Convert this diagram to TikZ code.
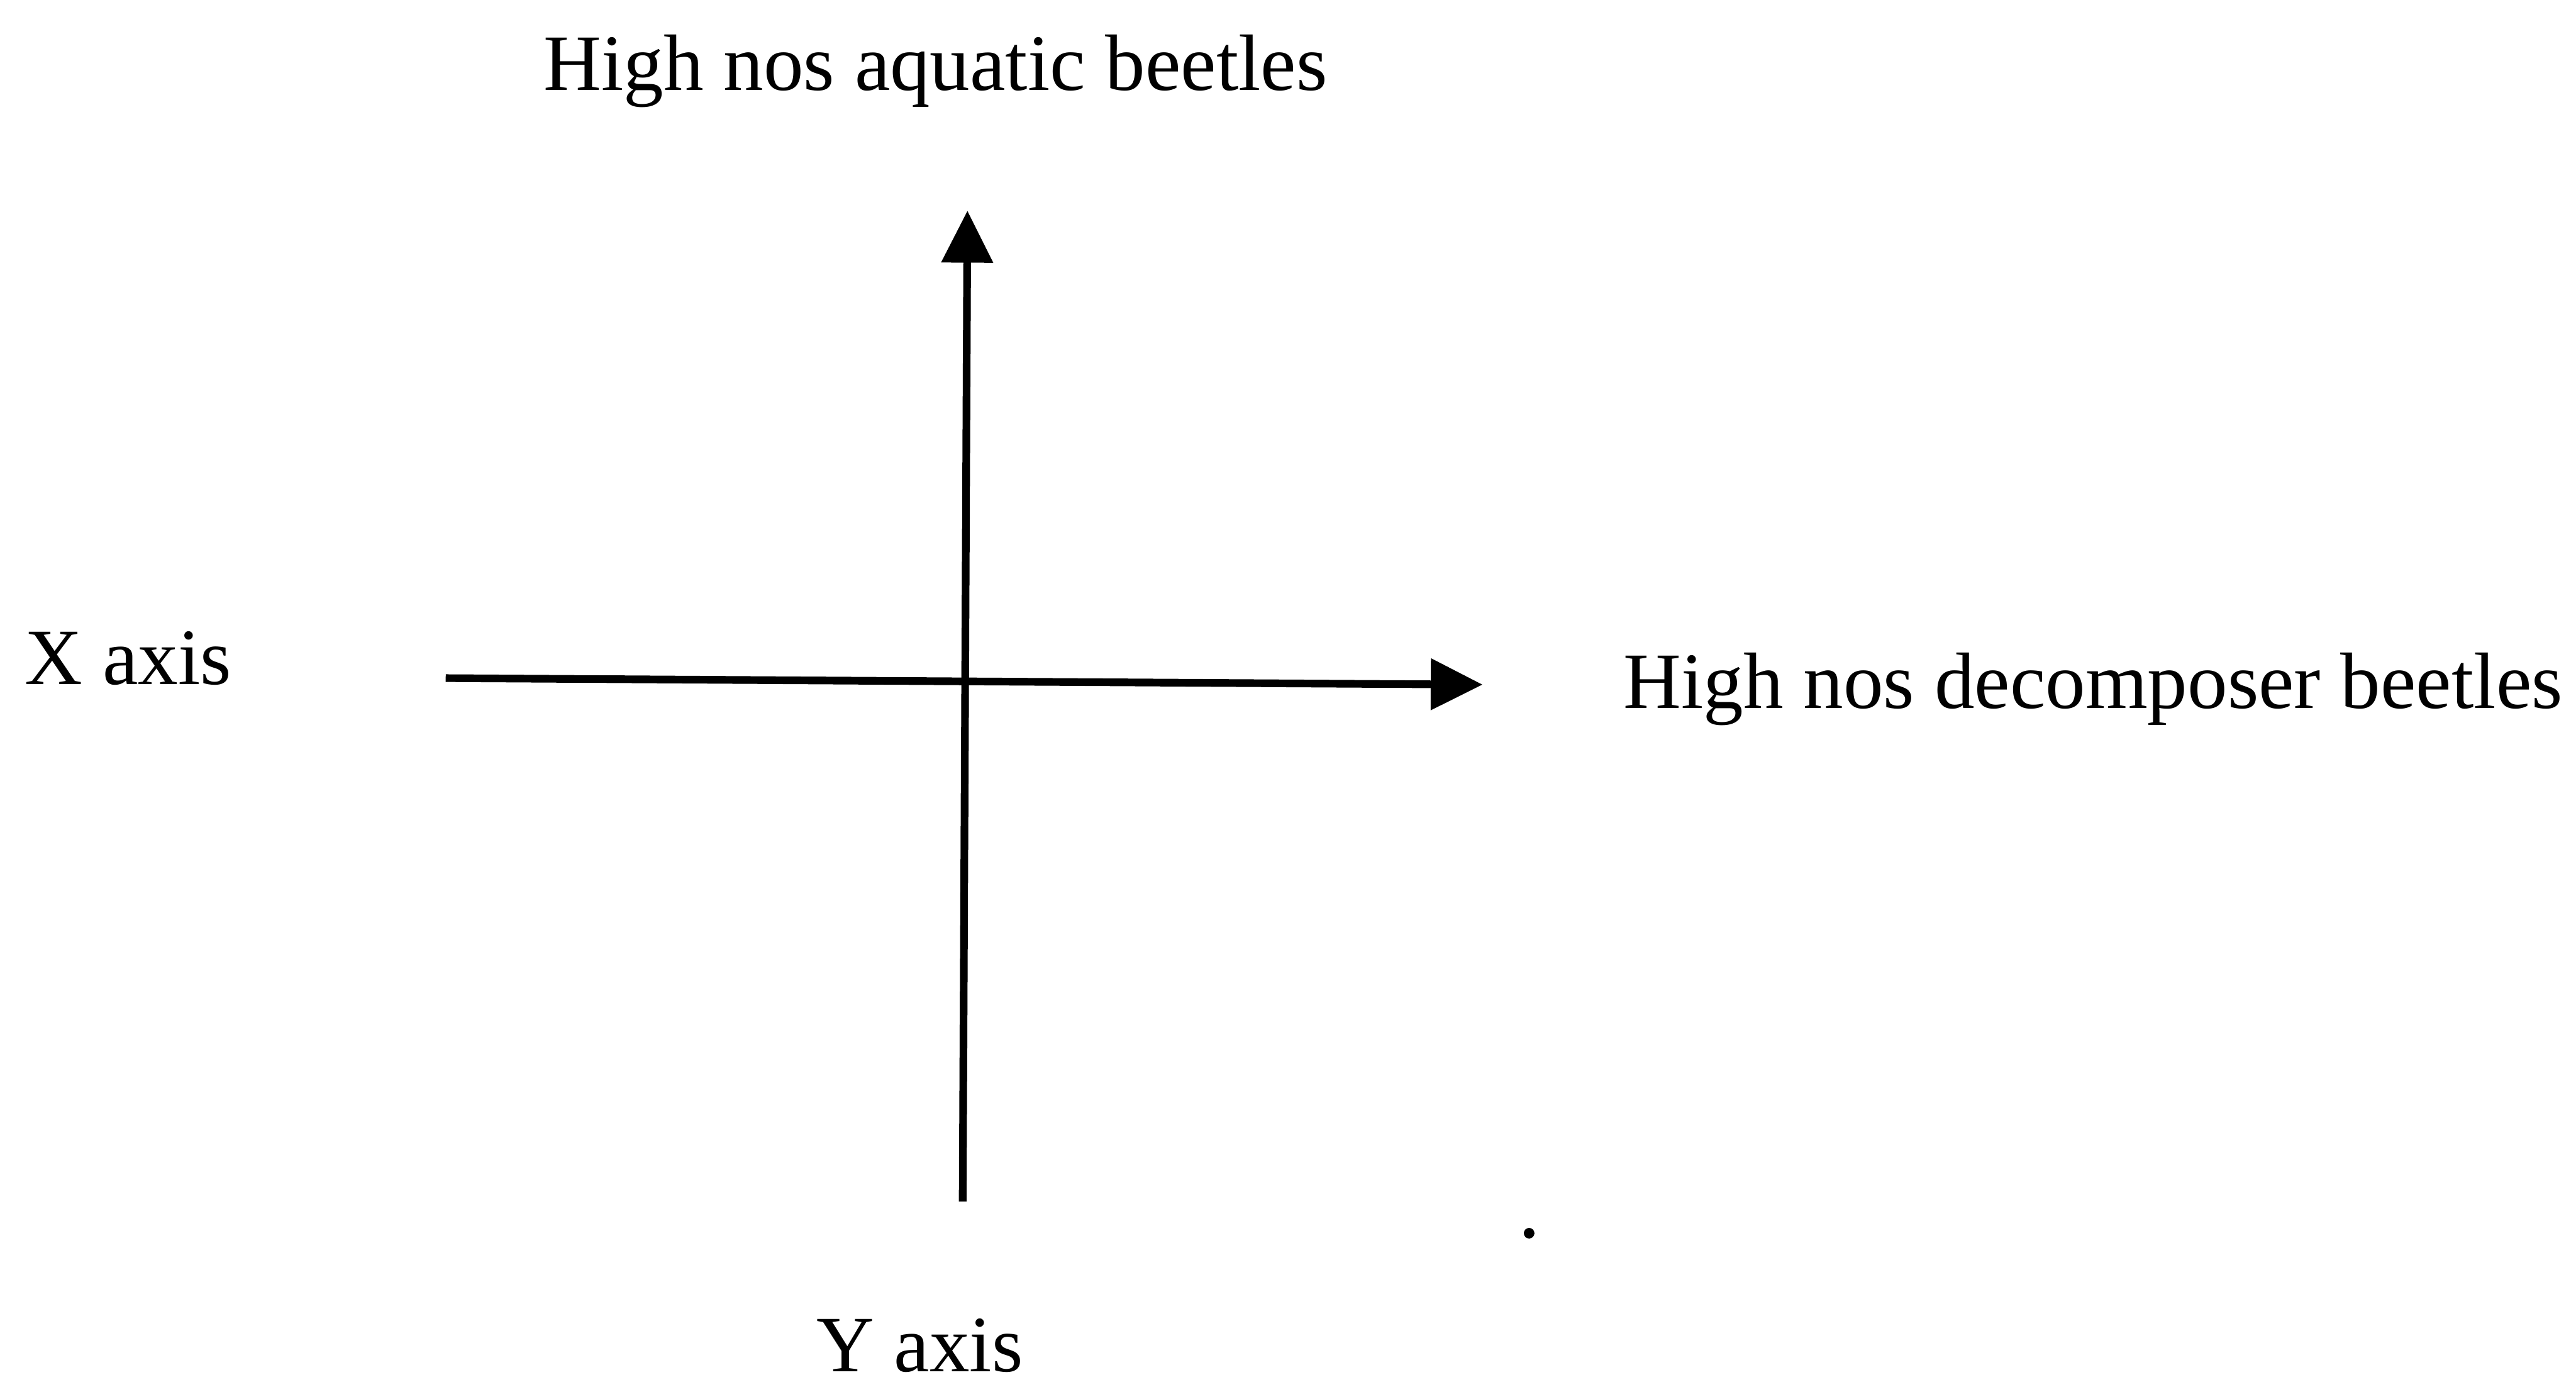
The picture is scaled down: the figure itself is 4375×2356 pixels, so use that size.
\documentclass[tikz,border=0pt]{standalone}
\usepackage{fontspec}
\setmainfont{Liberation Serif}
\usetikzlibrary{arrows.meta}
\begin{document}
\begin{tikzpicture}[x=0.01cm,y=-0.01cm,
  lbl/.style={inner sep=0pt, anchor=base, font=\fontsize{38.6}{46}\selectfont},
  axisline/.style={line width=0.13cm, -{Triangle[length=0.88cm,width=0.85cm]}}]
\useasboundingbox[fill=white] (0,0) rectangle (4375,2356);
% labels
\node[lbl] (top) at (1589,153) {High nos aquatic beetles};
\node[lbl] (xax) at (218,1163) {X axis};
\node[lbl] (right) at (3555,1203) {High nos decomposer beetles};
\node[lbl] (yax) at (1562,2330) {Y axis};
% axes
\coordinate (hstart) at (757,1152);
\coordinate (hend) at (2518,1163);
\coordinate (vstart) at (1635,2041);
\coordinate (vend) at (1643,358);
\draw[axisline] (hstart) -- (hend);
\draw[axisline] (vstart) -- (vend);
% stray dot
\fill (2597,2095) circle[radius=9];
\end{tikzpicture}
\end{document}
